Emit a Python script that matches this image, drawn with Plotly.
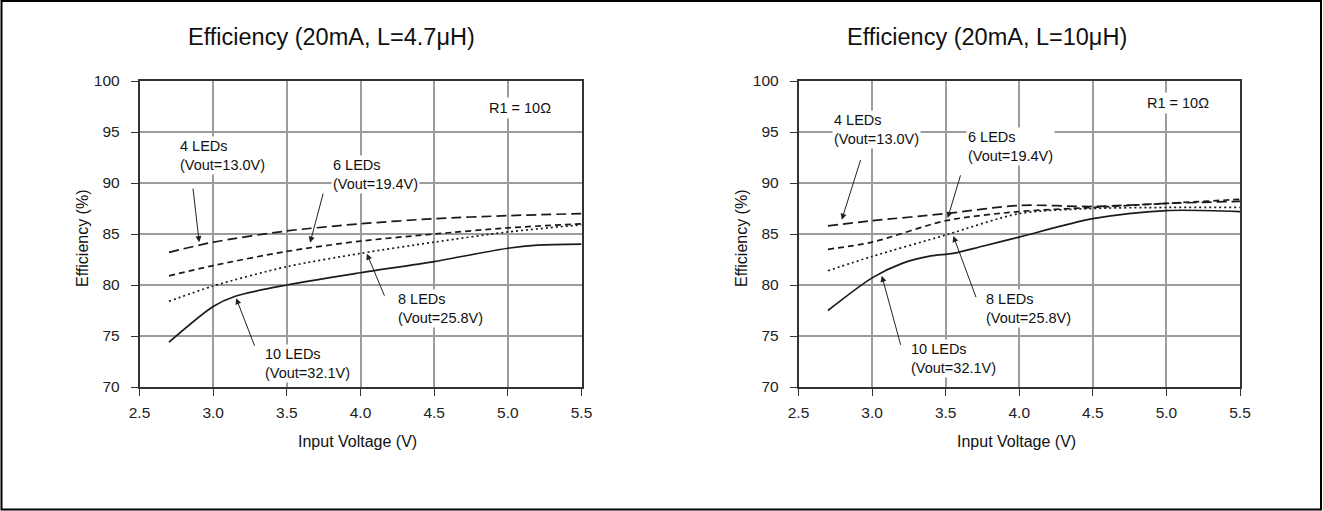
import plotly.graph_objects as go

# ---------------- data ----------------
titles = ["Efficiency (20mA, L=4.7μH)", "Efficiency (20mA, L=10μH)"]
x_ticks = [2.5, 3.0, 3.5, 4.0, 4.5, 5.0, 5.5]
y_ticks = [70, 75, 80, 85, 90, 95, 100]

# left chart (L = 4.7uH)
vin_a = [2.7, 3.0, 3.5, 4.0, 4.5, 5.0, 5.5]
eff4_a = [83.2, 84.2, 85.3, 86.0, 86.5, 86.8, 87.0]
eff6_a = [80.9, 81.9, 83.3, 84.3, 85.0, 85.6, 86.0]
eff8_a = [78.4, 79.9, 81.8, 83.1, 84.2, 85.2, 85.9]
vin10_a = [2.7, 3.0, 3.15, 3.5, 4.0, 4.5, 5.0, 5.2, 5.5]
eff10_a = [74.4, 77.9, 78.9, 80.0, 81.2, 82.3, 83.6, 83.9, 84.0]

# right chart (L = 10uH)
vin_b = [2.7, 3.0, 3.5, 4.0, 4.5, 5.0, 5.5]
eff4_b = [85.8, 86.3, 87.0, 87.8, 87.7, 88.0, 88.2]
eff6_b = [83.5, 84.2, 86.3, 87.2, 87.6, 88.0, 88.4]
eff8_b = [81.4, 82.8, 84.9, 87.0, 87.5, 87.6, 87.6]
vin10_b = [2.7, 3.0, 3.2, 3.4, 3.55, 3.75, 4.0, 4.5, 5.0, 5.5]
eff10_b = [77.5, 80.7, 82.1, 82.85, 83.1, 83.8, 84.7, 86.5, 87.3, 87.2]

labels = ["4 LEDs<br>(Vout=13.0V)", "6 LEDs<br>(Vout=19.4V)",
          "8 LEDs<br>(Vout=25.8V)", "10 LEDs<br>(Vout=32.1V)"]
r1_label = "R1 = 10Ω"

# label positions (text block left/middle) and arrows (tail -> head), data coords
lab_pos_a = [(2.76, 92.7), (3.80, 90.8), (4.24, 77.7), (3.34, 72.3)]
arr_a = [((2.862, 89.6), (2.905, 84.2)), ((3.749, 89.1), (3.658, 84.15)),
         ((4.167, 78.8), (4.043, 83.07)), ((3.285, 73.9), (3.156, 78.7))]
lab_pos_b = [(2.73, 95.2), (3.64, 93.6), (3.76, 77.7), (3.25, 72.75)]
arr_b = [((2.925, 92.4), (2.794, 86.4)), ((3.604, 90.9), (3.514, 86.57)),
         ((3.71, 78.66), (3.552, 84.8)), ((3.197, 73.99), (3.066, 80.9))]

FONT = "Liberation Sans, Arial, sans-serif"
W, H = 1323, 511

dashes = ["10px,5px", "6px,4px", "2px,3px", "solid"]

fig = go.Figure()

series = [
    ("x", "y", [(vin_a, eff4_a), (vin_a, eff6_a), (vin_a, eff8_a), (vin10_a, eff10_a)]),
    ("x2", "y2", [(vin_b, eff4_b), (vin_b, eff6_b), (vin_b, eff8_b), (vin10_b, eff10_b)]),
]
for xa, ya, lst in series:
    for (xs, ys), d in zip(lst, dashes):
        fig.add_trace(go.Scatter(x=xs, y=ys, mode="lines", xaxis=xa, yaxis=ya,
                                 line=dict(color="#1a1a1a", width=1.7, dash=d,
                                           shape="spline", smoothing=0.8),
                                 showlegend=False, hoverinfo="skip"))

# pixel -> paper helpers
def px(xp):
    return xp / W

def py(yp):
    return 1 - yp / H

dom_x = [[px(139.5), px(581.5)], [px(798.5), px(1240)]]
dom_y = [py(387), py(81)]

axis_common = dict(
    showgrid=True, gridcolor="#9c9c9c", gridwidth=1.5,
    showline=True, linecolor="#333333", linewidth=1.5, mirror=True,
    ticks="outside", ticklen=7, tickcolor="#333333", tickwidth=1.2,
    tickfont=dict(family=FONT, size=15.5, color="#222222"),
    zeroline=False, fixedrange=True, automargin=False,
)

for i, (xa, ya) in enumerate([("xaxis", "yaxis"), ("xaxis2", "yaxis2")]):
    xname = "x" if i == 0 else "x2"
    yname = "y" if i == 0 else "y2"
    fig.layout[xa] = dict(axis_common, domain=dom_x[i], range=[2.5, 5.5],
                          tickvals=x_ticks, ticktext=[f"{v:.1f}" for v in x_ticks],
                          anchor=yname, ticklabelstandoff=4)
    fig.layout[ya] = dict(axis_common, domain=dom_y, range=[70, 100],
                          tickvals=y_ticks, ticktext=[str(v) for v in y_ticks],
                          anchor=xname, ticklabelstandoff=8)

shapes = []
annotations = []

for i in range(2):
    xname = "x" if i == 0 else "x2"
    yname = "y" if i == 0 else "y2"
    for yv in (90, 75):
        shapes.append(dict(type="line", xref=f"{xname} domain", yref=yname,
                           x0=0, x1=1, y0=yv, y1=yv, layer="below",
                           line=dict(color="#111111", width=1.5)))
    pos = lab_pos_a if i == 0 else lab_pos_b
    arrs = arr_a if i == 0 else arr_b
    for (lx, ly), txt in zip(pos, labels):
        annotations.append(dict(x=lx, y=ly, xref=xname, yref=yname, text=txt,
                                showarrow=False, xanchor="left", yanchor="middle",
                                align="left", bgcolor="white", borderpad=1,
                                font=dict(family=FONT, size=14.5, color="#111111")))
    for (tail, head) in arrs:
        annotations.append(dict(x=head[0], y=head[1], ax=tail[0], ay=tail[1],
                                xref=xname, yref=yname, axref=xname, ayref=yname,
                                text="", showarrow=True, arrowhead=2, arrowsize=1.2,
                                arrowwidth=1, arrowcolor="#222222", standoff=0,
                                startstandoff=0))
    r1x = 4.85
    r1y = 97.4 if i == 0 else 97.8
    annotations.append(dict(x=r1x, y=r1y, xref=xname, yref=yname, text=r1_label,
                            showarrow=False, xanchor="left", yanchor="middle",
                            bgcolor="white", borderpad=2,
                            font=dict(family=FONT, size=14.5, color="#111111")))

for cx, t in zip([331, 987], titles):
    annotations.append(dict(x=px(cx), y=py(37), xref="paper", yref="paper", text=t,
                            showarrow=False, xanchor="center", yanchor="middle",
                            font=dict(family=FONT, size=23.5, color="#111111")))
for cx in (357, 1016):
    annotations.append(dict(x=px(cx), y=py(441), xref="paper", yref="paper",
                            text="Input Voltage (V)", showarrow=False,
                            xanchor="center", yanchor="middle",
                            font=dict(family=FONT, size=16, color="#111111")))
for cx in (82, 741):
    annotations.append(dict(x=px(cx), y=py(238), xref="paper", yref="paper",
                            text="Efficiency (%)", showarrow=False, textangle=-90,
                            xanchor="center", yanchor="middle",
                            font=dict(family=FONT, size=16, color="#111111")))

shapes.append(dict(type="rect", xref="paper", yref="paper",
                   x0=px(1.5), x1=px(1321), y0=py(509.5), y1=py(1),
                   line=dict(color="black", width=2), layer="above"))

fig.update_layout(
    width=W, height=H,
    margin=dict(l=0, r=0, t=0, b=0, pad=0, autoexpand=False),
    paper_bgcolor="white", plot_bgcolor="white",
    shapes=shapes, annotations=annotations,
    font=dict(family=FONT, color="#111111"),
    showlegend=False,
)

fig.write_html("out.html", config={"displayModeBar": False})

# remove default page margin so the figure starts at the window's top-left corner
with open("out.html", "r", encoding="utf-8") as f:
    html = f.read()
html = html.replace("<head>", "<head><style>html,body{margin:0;padding:0;overflow:hidden;}</style>", 1)
with open("out.html", "w", encoding="utf-8") as f:
    f.write(html)
